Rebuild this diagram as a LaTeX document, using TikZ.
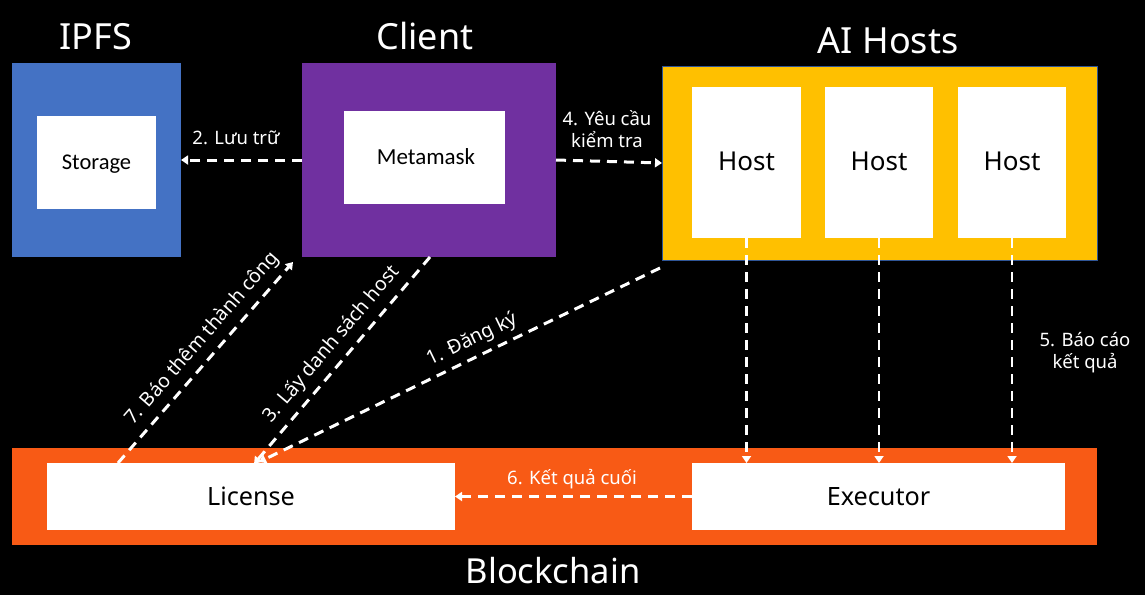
\documentclass[tikz,border=0pt]{standalone}
\usepackage{fontspec}
\setmainfont{Noto Sans}
\newfontfamily\calibrilike{Carlito}
\usetikzlibrary{arrows.meta}
\definecolor{ipfsblue}{HTML}{4472C4}
\definecolor{clientpurple}{HTML}{7030A0}
\definecolor{hostyellow}{HTML}{FFC000}
\definecolor{chainorange}{HTML}{F85A15}
\definecolor{edgeblue}{HTML}{2F5597}
\begin{document}
\begin{tikzpicture}[x=1pt,y=-1pt,
  area/.style={anchor=north west, inner sep=0pt, outer sep=0pt},
  whitebox/.style={area, fill=white, text=black},
  title/.style={text=white, font=\fontsize{36}{40}\selectfont},
  conn/.style={draw=white, line width=3pt, dash pattern=on 10pt off 7pt, -{Triangle[width=9pt,length=7pt]}},
  vconn/.style={conn, line width=2.5pt},
  lbl/.style={text=white, font=\fontsize{18.5}{22}\selectfont, align=center, inner sep=2pt},
  dlbl/.style={lbl, font=\fontsize{19.5}{23}\selectfont}
]
\useasboundingbox (0,0) rectangle (1145,595);
\fill[black] (0,0) rectangle (1145,595);

% areas
\node[area, fill=ipfsblue, minimum width=169pt, minimum height=194pt] (ipfs) at (12,63) {};
\node[whitebox, minimum width=119pt, minimum height=93pt] (storage) at (37,116) {};
\node[text=black, font=\calibrilike\fontsize{22.5}{26}\selectfont] (storaget) at (96.5,164) {Storage};
\node[area, fill=clientpurple, minimum width=254pt, minimum height=194pt] (client) at (302,63) {};
\node[whitebox, minimum width=161pt, minimum height=93pt] (meta) at (344,111) {};
\node[text=black, font=\calibrilike\fontsize{23}{26}\selectfont] (metatext) at (426,157) {Metamask};
\node[area, fill=hostyellow, draw=edgeblue, line width=0.8pt, minimum width=435pt, minimum height=194pt] (ai) at (662,66) {};
\node[whitebox, minimum width=109pt, minimum height=151pt] (h1) at (692,87) {};
\node[whitebox, minimum width=108pt, minimum height=151pt] (h2) at (825,87) {};
\node[whitebox, minimum width=108pt, minimum height=151pt] (h3) at (958,87) {};
\node[text=black, font=\fontsize{26}{30}\selectfont] (h1t) at (746.5,161) {Host};
\node[text=black, font=\fontsize{26}{30}\selectfont] (h2t) at (879,161) {Host};
\node[text=black, font=\fontsize{26}{30}\selectfont] (h3t) at (1012,161) {Host};
\node[area, fill=chainorange, minimum width=1085pt, minimum height=97pt] (bc) at (12,448) {};
\node[whitebox, minimum width=408pt, minimum height=67pt, font=\fontsize{25.2}{28}\selectfont] (lic) at (47,463) {License};
\node[whitebox, minimum width=373pt, minimum height=67pt, font=\fontsize{25.2}{28}\selectfont] (exe) at (692,463) {Executor};

% titles
\node[title] (tipfs) at (96,37) {IPFS};
\node[title] (tclient) at (425,36) {Client};
\node[title] (tai) at (888,41) {AI Hosts};
\node[title, font=\fontsize{34.5}{40}\selectfont] (tbc) at (553,571) {Blockchain};

% connector endpoints
\coordinate (p7s) at (118,463);
\coordinate (p7e) at (293,262);
\coordinate (p3s) at (430,257);
\coordinate (p3e) at (254,464);
\coordinate (p1s) at (660,268);
\coordinate (p1e) at (259,462);

% connectors
\draw[conn] (client.west) -- (ipfs.east);
\node[lbl] (l2) at (236,138) {2. Lưu trữ};
\draw[conn] (client.east) -- (ai.west);
\node[lbl] (l4) at (607,129) {4. Yêu cầu\\kiểm tra};
\draw[conn] (exe.west) -- (lic.east);
\node[lbl] (l6) at (572,479) {6. Kết quả cuối};
\draw[vconn] (h1.south) -- (h1.south |- exe.north);
\draw[vconn] (h2.south) -- (h2.south |- exe.north);
\draw[vconn] (h3.south) -- (h3.south |- exe.north);
\node[lbl] (l5) at (1085,353) {5. Báo cáo\\kết quả};
\draw[conn] (p7s) -- (p7e);
\path (p7s) -- (p7e) node[dlbl, pos=0.56, sloped, above=6pt] (l7) {7. Báo thêm thành công};
\draw[conn] (p3s) -- (p3e);
\path (p3e) -- (p3s) node[dlbl, pos=0.52, sloped, above=6pt] (l3) {3. Lấy danh sách host};
\draw[conn] (p1s) -- (p1e);
\path (p1e) -- (p1s) node[dlbl, pos=0.55, sloped, above=5pt] (l1) {1. Đăng ký};
\end{tikzpicture}
\end{document}
